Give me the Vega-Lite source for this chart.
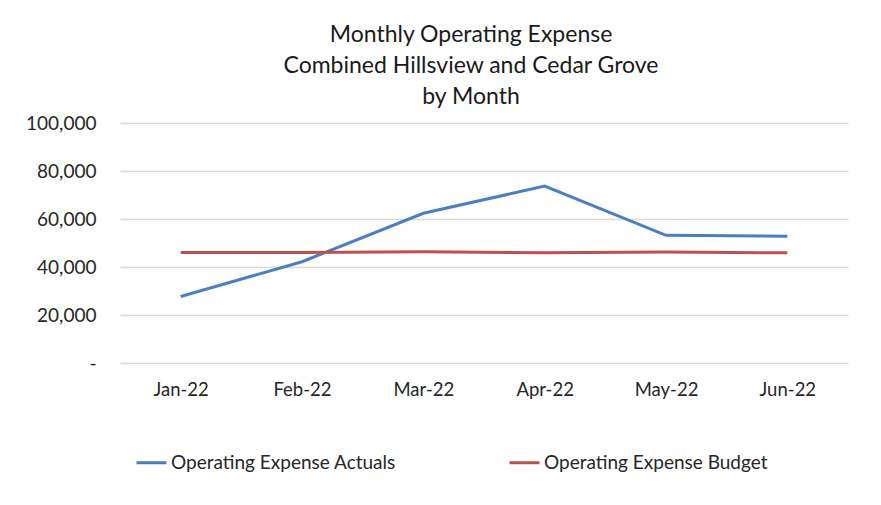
{
  "$schema": "https://vega.github.io/schema/vega-lite/v6.json",
  "width": 728,
  "height": 240,
  "autosize": {"type": "none"},
  "padding": {"left": 120, "top": 123, "right": 33, "bottom": 142},
  "background": "white",
  "config": {
    "font": "Lato",
    "view": {"stroke": null}
  },
  "title": {
    "text": ["Monthly Operating Expense", "Combined Hillsview and Cedar Grove", "by Month"],
    "fontSize": 23,
    "fontWeight": "normal",
    "color": "#1a1a1a",
    "lineHeight": 31,
    "anchor": "middle",
    "dx": -13,
    "offset": 5
  },
  "data": {
    "values": [
      {"month": "Jan-22", "series": "Operating Expense Actuals", "value": 27700},
      {"month": "Feb-22", "series": "Operating Expense Actuals", "value": 42200},
      {"month": "Mar-22", "series": "Operating Expense Actuals", "value": 62400},
      {"month": "Apr-22", "series": "Operating Expense Actuals", "value": 73700},
      {"month": "May-22", "series": "Operating Expense Actuals", "value": 53200},
      {"month": "Jun-22", "series": "Operating Expense Actuals", "value": 52800},
      {"month": "Jan-22", "series": "Operating Expense Budget", "value": 46000},
      {"month": "Feb-22", "series": "Operating Expense Budget", "value": 46000},
      {"month": "Mar-22", "series": "Operating Expense Budget", "value": 46400},
      {"month": "Apr-22", "series": "Operating Expense Budget", "value": 45900},
      {"month": "May-22", "series": "Operating Expense Budget", "value": 46300},
      {"month": "Jun-22", "series": "Operating Expense Budget", "value": 45900}
    ]
  },
  "mark": {"type": "line", "strokeWidth": 3},
  "encoding": {
    "x": {
      "field": "month",
      "type": "ordinal",
      "sort": null,
      "scale": {"padding": 0.5},
      "axis": {
        "title": null,
        "labelAngle": 0,
        "labelFontSize": 18.5,
        "labelColor": "#262626",
        "labelPadding": 17,
        "ticks": false,
        "domain": false,
        "grid": false
      }
    },
    "y": {
      "field": "value",
      "type": "quantitative",
      "scale": {"domain": [0, 100000], "nice": false},
      "axis": {
        "title": null,
        "values": [0, 20000, 40000, 60000, 80000, 100000],
        "labelExpr": "datum.value == 0 ? '-\u00a0\u00a0\u00a0' : format(datum.value, ',')",
        "labelFontSize": 19,
        "labelColor": "#262626",
        "labelPadding": 24,
        "ticks": false,
        "domain": false,
        "grid": true,
        "gridColor": "#d9d9d9",
        "gridWidth": 1.5
      }
    },
    "color": {
      "field": "series",
      "type": "nominal",
      "scale": {
        "domain": ["Operating Expense Actuals", "Operating Expense Budget"],
        "range": ["#4a7fc1", "#c0504d"]
      },
      "legend": {
        "title": null,
        "orient": "none",
        "legendX": 15,
        "legendY": 323,
        "direction": "horizontal",
        "symbolType": "stroke",
        "symbolSize": 900,
        "symbolStrokeWidth": 3,
        "labelFontSize": 19,
        "labelColor": "#262626",
        "labelOffset": 3,
        "columnPadding": 107,
        "labelLimit": 400
      }
    }
  }
}
